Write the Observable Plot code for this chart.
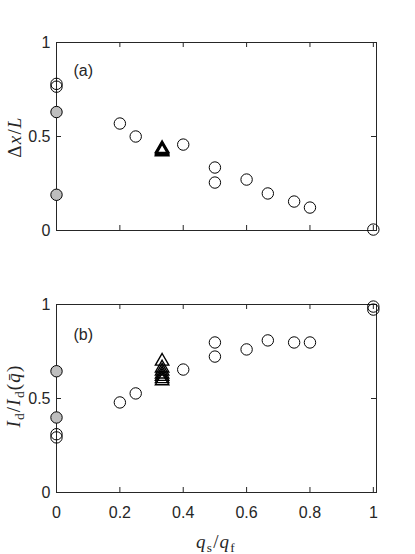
<!DOCTYPE html>
<html><head><meta charset="utf-8">
<script src="https://cdn.jsdelivr.net/npm/d3@7"></script>
<script src="https://cdn.jsdelivr.net/npm/@observablehq/plot@0.6"></script>
<style>body{margin:0;background:#fff;} svg{display:block}</style>
</head><body><div id="chart"></div>
<script>
// tick values
const xTicks = [0, 0.2, 0.4, 0.6, 0.8, 1];
const yTicks = [0, 0.5, 1];

// panel (a): Δx/L
const aOpenX = [0, 0, 0.2, 0.25, 0.4, 0.5, 0.5, 0.6, 0.667, 0.75, 0.8, 1];
const aOpenY = [0.78, 0.765, 0.569, 0.50, 0.457, 0.335, 0.255, 0.271, 0.197, 0.154, 0.122, 0.005];
const aFilledX = [0, 0];
const aFilledY = [0.63, 0.19];
const aTriX = [1/3, 1/3, 1/3, 1/3];
const aTriY = [0.418, 0.424, 0.430, 0.436];

// panel (b): I_d / I_d(q̄)
const bOpenX = [0, 0, 0.2, 0.25, 0.4, 0.5, 0.5, 0.6, 0.667, 0.75, 0.8, 1, 1];
const bOpenY = [0.31, 0.293, 0.479, 0.527, 0.654, 0.798, 0.723, 0.761, 0.809, 0.798, 0.798, 0.989, 0.973];
const bFilledX = [0, 0];
const bFilledY = [0.645, 0.399];
const bTriX = [1/3, 1/3, 1/3, 1/3, 1/3, 1/3, 1/3];
const bTriY = [0.698, 0.662, 0.645, 0.630, 0.617, 0.605, 0.594];

const zip = (xs, ys) => xs.map((x, i) => ({x, y: ys[i]}));
const ink = "#262626";
const T = 5;          // inward tick length (px)
const W = 415, ML = 56, MR = 39;

function panel({open, filled, tri, label, labelDy, showXLabels, height, marginTop, marginBottom}) {
  const ph = height - marginTop - marginBottom;
  const pw = W - ML - MR;
  const ty = T / ph, tx = 1.01 * T / pw; // tick length in data units
  return Plot.plot({
    width: W, height, marginLeft: ML, marginRight: MR, marginTop, marginBottom,
    style: {fontFamily: "'Liberation Sans', Arial, sans-serif", fontSize: "16px", color: ink, background: "white"},
    x: {domain: [0, 1.01]},
    y: {domain: [0, 1]},
    marks: [
      Plot.frame({stroke: ink}),
      Plot.ruleX(xTicks, {x: d => d, y1: 0, y2: ty, stroke: ink, strokeWidth: 1}),
      Plot.ruleX(xTicks, {x: d => d, y1: 1 - ty, y2: 1, stroke: ink, strokeWidth: 1}),
      Plot.ruleY(yTicks, {y: d => d, x1: 0, x2: tx, stroke: ink, strokeWidth: 1}),
      Plot.ruleY(yTicks, {y: d => d, x1: 1.01 - tx, x2: 1.01, stroke: ink, strokeWidth: 1}),
      Plot.axisY(yTicks, {anchor: "left", tickSize: 0, tickPadding: 6, label: null, tickFormat: d => String(d)}),
      showXLabels
        ? Plot.axisX(xTicks, {anchor: "bottom", tickSize: 0, tickPadding: 14, label: null, tickFormat: d => String(d)})
        : Plot.axisX([], {anchor: "bottom", label: null}),
      Plot.dot(filled, {x: "x", y: "y", r: 5.7, fill: "#bebebe", stroke: "black", strokeWidth: 1}),
      Plot.dot(open, {x: "x", y: "y", r: 5.7, fill: "none", stroke: "black", strokeWidth: 1}),
      Plot.dot(tri, {x: "x", y: "y", symbol: "triangle", r: 5, fill: "none", stroke: "black", strokeWidth: 1.4}),
      Plot.text([label], {frameAnchor: "top-left", dx: 17, dy: labelDy, text: d => d, textAnchor: "start", fontSize: 16, fill: ink})
    ]
  });
}

function mathText(svg, x, y, rot, parts, size) {
  const t = d3.select(svg).append("text")
    .attr("transform", `translate(${x},${y}) rotate(${rot})`)
    .attr("text-anchor", "middle")
    .attr("fill", ink)
    .style("font-family", "'Liberation Serif', 'Times New Roman', serif")
    .style("font-size", size + "px")
    .style("letter-spacing", "1.2px");
  let shifted = false;
  for (const p of parts) {
    const s = t.append("tspan").text(p.t).style("font-style", p.it ? "italic" : "normal");
    if (p.sub) {
      s.style("font-size", (size * 0.7) + "px").attr("dy", shifted ? 0 : 4);
      shifted = true;
    } else {
      if (shifted) { s.attr("dy", -4); shifted = false; }
    }
  }
}

const chart = document.getElementById("chart");

const top_ = panel({
  open: zip(aOpenX, aOpenY), filled: zip(aFilledX, aFilledY), tri: zip(aTriX, aTriY),
  label: "(a)", labelDy: 22, showXLabels: false, height: 270, marginTop: 42, marginBottom: 40
});
mathText(top_, 21, 137, -90, [
  {t: "Δ"}, {t: "x", it: true}, {t: "/"}, {t: "L", it: true}
], 19);
chart.appendChild(top_);

const bot = panel({
  open: zip(bOpenX, bOpenY), filled: zip(bFilledX, bFilledY), tri: zip(bTriX, bTriY),
  label: "(b)", labelDy: 24, showXLabels: true, height: 284, marginTop: 34, marginBottom: 62
});
mathText(bot, 20, 126, -90, [
  {t: "I", it: true}, {t: "d", sub: true}, {t: "/"}, {t: "I", it: true}, {t: "d", sub: true},
  {t: "("}, {t: "q\u0304", it: true}, {t: ")"}
], 19);
mathText(bot, 216, 278, 0, [
  {t: "q", it: true}, {t: "s", sub: true}, {t: "/"}, {t: "q", it: true}, {t: "f", sub: true}
], 19);
chart.appendChild(bot);
</script></body></html>
